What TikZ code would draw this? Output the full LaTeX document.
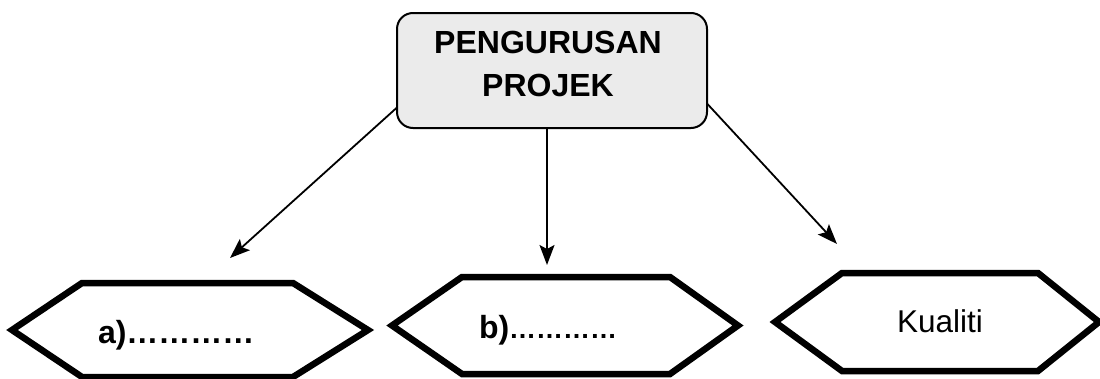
\documentclass[tikz,border=0pt]{standalone}
\usepackage{fontspec}
\setmainfont{Liberation Sans}
\usetikzlibrary{arrows.meta}
\tikzset{
  topbox/.style={draw=black, line width=2pt, rounded corners=16pt, fill=gray!16,
    minimum width=310pt, minimum height=115pt, inner sep=0pt, outer sep=0pt},
  toptext/.style={inner sep=0pt, outer sep=0pt, align=center, font=\fontsize{32}{43}\selectfont\bfseries},
  hexframe/.style={draw=none, inner sep=0pt, outer sep=0pt},
  hexline/.style={draw=black, line width=6.5pt, line join=miter},
  conn/.style={draw=black, line width=1.8pt, -{Stealth[length=20pt, width=15pt, inset=4pt]}},
  lab/.style={inner sep=0pt, outer sep=0pt, anchor=base west},
}
\begin{document}
\begin{tikzpicture}[x=1pt, y=-1pt]
\useasboundingbox (0,0) rectangle (1100,378);

\node[topbox] (top) at (552,70.5) {};
\node[toptext] (toptxt) at (548,64) {PENGURUSAN\\PROJEK};

% hexagon frames
\node[hexframe, minimum width=356pt, minimum height=94pt] (h1) at (190,330) {};
\node[hexframe, minimum width=346pt, minimum height=97pt] (h2) at (565,325.5) {};
\node[hexframe, minimum width=324pt, minimum height=98pt] (h3) at (937,322) {};

\draw[hexline] (h1.west) -- ([xshift=70pt]h1.north west) -- ([xshift=-75pt]h1.north east) -- (h1.east)
  -- ([xshift=-75pt]h1.south east) -- ([xshift=70pt]h1.south west) -- cycle;
\draw[hexline] (h2.west) -- ([xshift=70pt]h2.north west) -- ([xshift=-68pt]h2.north east) -- (h2.east)
  -- ([xshift=-68pt]h2.south east) -- ([xshift=70pt]h2.south west) -- cycle;
\draw[hexline] (h3.west) -- ([xshift=67pt]h3.north west) -- ([xshift=-61pt]h3.north east) -- (h3.east)
  -- ([xshift=-61pt]h3.south east) -- ([xshift=67pt]h3.south west) -- cycle;

% labels
\node[lab, font=\fontsize{32}{32}\selectfont\bfseries] (la) at (98,343) {a)…………};
\node[lab, font=\fontsize{32}{32}\selectfont\bfseries] (lb) at (479,338) {b){\fontsize{27}{27}\selectfont …………}};
\node[lab, font=\fontsize{31.5}{31.5}\selectfont] (lc) at (897,332) {Kualiti};

% arrow end points
\coordinate (t1) at (230,258);
\coordinate (t2) at (547,265);
\coordinate (t3) at (837,244);

\draw[conn] ([yshift=-37pt]top.west) -- (t1);
\draw[conn] ([xshift=-5pt]top.south) -- (t2);
\draw[conn] ([yshift=-33pt]top.east) -- (t3);
\end{tikzpicture}
\end{document}
